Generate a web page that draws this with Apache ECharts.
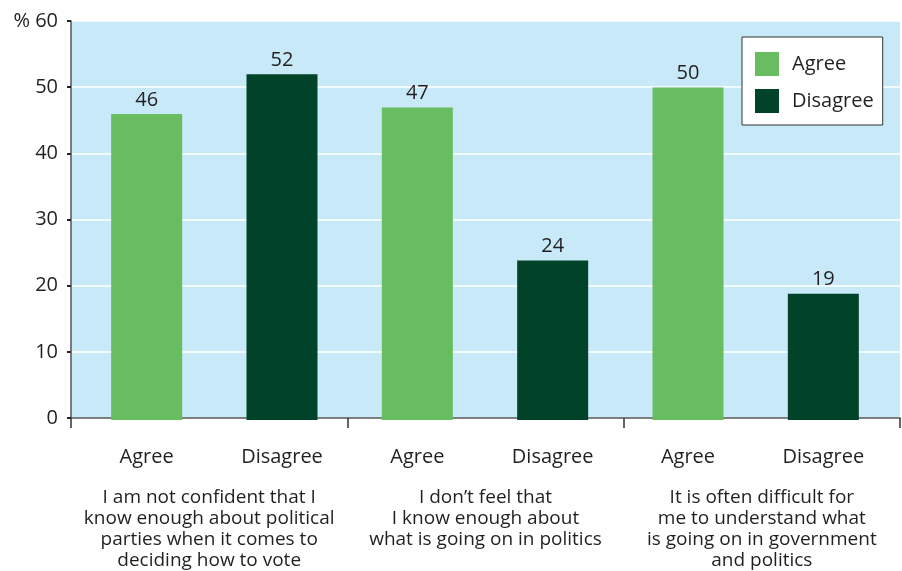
<!DOCTYPE html>
<html>
<head>
<meta charset="utf-8">
<script src="https://cdn.jsdelivr.net/npm/echarts@6/dist/echarts.min.js"></script>
<style>
  html, body { margin: 0; padding: 0; background: #ffffff; }
  #chart { width: 902px; height: 571px; }
</style>
</head>
<body>
<div id="chart"></div>
<script>
// Statements asked about, and the share who agree / disagree with each
const statements = [
  'I am not confident that I\nknow enough about political\nparties when it comes to\ndeciding how to vote',
  'I don\u2019t feel that\nI know enough about\nwhat is going on in politics',
  'It is often difficult for\nme to understand what\nis going on in government\nand politics'
];
const responseLabels = ['Agree', 'Disagree', 'Agree', 'Disagree', 'Agree', 'Disagree'];
const agreeValues = [46, 47, 50];
const disagreeValues = [52, 24, 19];
const yTicks = [0, 10, 20, 30, 40, 50, 60];

// Each statement gets an Agree slot followed by a Disagree slot
const agreeSlots = [];
const disagreeSlots = [];
agreeValues.forEach((v, i) => {
  agreeSlots.push(v, null);
  disagreeSlots.push(null, disagreeValues[i]);
});

const FONT = '"Open Sans", "Noto Sans", sans-serif';
const TEXT = '#231f20';
const Y_MIN = yTicks[0];
const Y_MAX = yTicks[yTicks.length - 1];

const chart = echarts.init(document.getElementById('chart'), null, { renderer: 'canvas' });

const barLabel = { show: true, position: 'top', distance: 4, fontSize: 20, color: TEXT, fontFamily: FONT };

chart.setOption({
  animation: false,
  textStyle: { fontFamily: FONT, color: TEXT },
  grid: [
    // Frame: blue panel, value axis, statement groups
    { left: 71, right: 2, top: 21, bottom: 151, show: true, backgroundColor: '#c7e9f8', borderWidth: 0 },
    // Bars and their response labels
    { left: 79, right: 11, top: 21, bottom: 151, show: false }
  ],
  legend: {
    orient: 'vertical',
    left: 742, top: 37,
    backgroundColor: '#ffffff',
    borderColor: '#333333', borderWidth: 1,
    padding: [15, 9, 12, 13],
    itemWidth: 24, itemHeight: 24, itemGap: 13,
    icon: 'rect',
    textStyle: { fontFamily: FONT, fontSize: 20, color: TEXT, padding: [4, 0, 0, 8] },
    data: ['Agree', 'Disagree']
  },
  xAxis: [
    {
      gridIndex: 0,
      type: 'category',
      data: statements,
      position: 'bottom',
      axisLine: { show: true, lineStyle: { color: '#555555', width: 1.5 } },
      axisTick: { show: true, length: 10, lineStyle: { color: '#333333', width: 1.5 } },
      axisLabel: {
        margin: 69, fontSize: 19, lineHeight: 21, color: TEXT,
        fontFamily: FONT, align: 'center', interval: 0
      }
    },
    {
      gridIndex: 1,
      type: 'category',
      data: responseLabels,
      position: 'bottom',
      axisLine: { show: false },
      axisTick: { show: false },
      axisLabel: { margin: 27, fontSize: 20, color: TEXT, fontFamily: FONT, interval: 0 }
    }
  ],
  yAxis: [
    {
      gridIndex: 0,
      type: 'value',
      min: Y_MIN, max: Y_MAX, interval: 10,
      axisLine: { show: true, lineStyle: { color: '#555555', width: 1.5 } },
      axisTick: { show: true, length: 4, lineStyle: { color: '#222222', width: 2 } },
      axisLabel: {
        margin: 13, fontSize: 20, color: TEXT, fontFamily: FONT,
        formatter: v => (v === Y_MAX ? '% ' + v : String(v))
      },
      splitLine: { show: true, lineStyle: { color: '#ffffff', width: 1.5 } }
    },
    {
      gridIndex: 1,
      type: 'value',
      min: Y_MIN, max: Y_MAX, interval: 10,
      show: false,
      splitLine: { show: false }
    }
  ],
  series: [
    {
      name: 'Agree',
      type: 'bar',
      xAxisIndex: 1, yAxisIndex: 1,
      data: agreeSlots,
      barWidth: 71,
      barGap: '-100%',
      itemStyle: { color: '#67bd5f' },
      label: barLabel
    },
    {
      name: 'Disagree',
      type: 'bar',
      xAxisIndex: 1, yAxisIndex: 1,
      data: disagreeSlots,
      barWidth: 71,
      barGap: '-100%',
      itemStyle: { color: '#004329' },
      label: barLabel
    }
  ]
});
</script>
</body>
</html>
